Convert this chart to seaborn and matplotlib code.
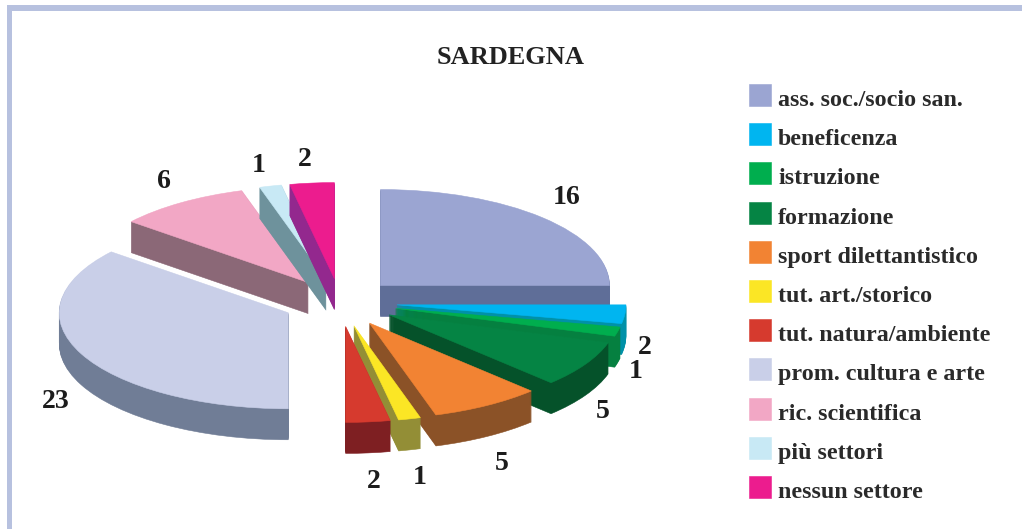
import matplotlib
matplotlib.use('Agg')
import matplotlib.pyplot as plt
import seaborn as sns
from matplotlib.legend_handler import HandlerPatch
from matplotlib.patches import Patch, Rectangle

W, H = 1022, 529

categories = ['ass. soc./socio san.', 'beneficenza', 'istruzione', 'formazione',
              'sport dilettantistico', 'tut. art./storico', 'tut. natura/ambiente',
              'prom. cultura e arte', 'ric. scientifica', 'più settori', 'nessun settore']
values = [16, 2, 1, 5, 5, 1, 2, 23, 6, 1, 2]
top_colors = ['#9BA5D2', '#00B5F0', '#00AE4E', '#058444', '#F28333', '#FBE625',
              '#D63A2E', '#C9CFE8', '#F2A7C5', '#C8E9F5', '#EC1C8E']
side_colors = ['#5F6E98', '#0091A8', '#058040', '#05522A', '#8B5227', '#938E36',
               '#7E1F22', '#707D96', '#8B6877', '#6E929C', '#93288E']
# back slices first, so the front ones cover their sides
draw_order = [0, 8, 9, 10, 1, 2, 3, 4, 5, 6, 7]
# where the value labels sit, in pixels of the picture
label_pos = [(567, 197), (645, 348), (636, 371), (603, 412), (502, 463), (420, 477),
             (374, 481), (56, 401), (164, 182), (259, 165), (305, 160)]

# pie geometry in pixels: flattened ellipse seen from above
CX, CY, RX, RY = 340, 302.5, 229, 96
DEPTH = 31

sns.set_theme(style='white')
plt.rcParams['font.family'] = ['Liberation Serif', 'DejaVu Serif']

fig = plt.figure(figsize=(W / 100, H / 100), dpi=100, facecolor='white')
ax = fig.add_axes([0, 0, 1, 1])


def draw_layer(colors, layer):
    wedges, _ = ax.pie(values, colors=sns.color_palette(colors), startangle=90,
                       counterclock=False, explode=[0.25] * len(values),
                       center=(0, -layer / RY), wedgeprops={'linewidth': 0.4})
    for i, w in enumerate(wedges):
        w.set_edgecolor(colors[i])
        w.set_zorder(10 + draw_order.index(i) * 100 + DEPTH - layer)
    return wedges


# extrude the slices by stacking dark pies, then the coloured top
for layer in range(DEPTH, 0, -1):
    draw_layer(side_colors, layer)
tops = draw_layer(top_colors, 0)

ax.set_aspect('auto')
ax.set_xlim(-CX / RX, (W - CX) / RX)
ax.set_ylim((CY - H) / RY, CY / RY)
ax.axis('off')

for v, (x, y) in zip(values, label_pos):
    fig.text(x / W, 1 - y / H, str(v), fontsize=20, fontweight='bold', color='#1c1c1c',
             ha='center', va='center')

fig.text(511 / W, 1 - 57 / H, 'SARDEGNA', fontsize=19, fontweight='bold', color='#222222',
         ha='center', va='center')

# ypad drops the squares onto the text baseline, as in the original
fig.legend(tops, categories, loc='upper left', bbox_to_anchor=(749 / W, 1 - 84 / H),
           frameon=False, labelcolor='#2a2a2a', borderpad=0, borderaxespad=0,
           handlelength=0.92, handleheight=1.422, handletextpad=0.29, labelspacing=0.4625,
           handler_map={Patch: HandlerPatch(ypad=0.253)},
           prop={'weight': 'bold', 'size': 17.3})

# frame: only the top and left bars show
frame_color = '#B7C1DF'
fig.add_artist(Rectangle((7 / W, 1 - 11 / H), (W - 7) / W, 6 / H, transform=fig.transFigure,
                         facecolor=frame_color, edgecolor='none'))
fig.add_artist(Rectangle((7 / W, 0), 5 / W, 1 - 5 / H, transform=fig.transFigure,
                         facecolor=frame_color, edgecolor='none'))

fig.savefig('out.png', dpi=100)
